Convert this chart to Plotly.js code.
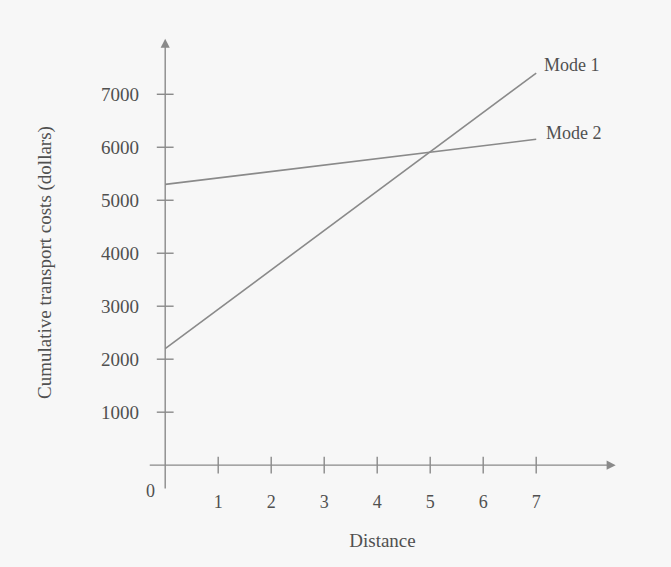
<!DOCTYPE html>
<html><head><meta charset="utf-8">
<script src="https://cdn.plot.ly/plotly-3.0.1.min.js"></script>
<style>html,body{margin:0;padding:0;background:#f7f7f7;}</style>
</head><body>
<div id="chart" style="width:671px;height:567px;"></div>
<script>
// Data
const distance = [0, 7];
const mode1Cost = [2200, 7400];
const mode2Cost = [5300, 6150];
const seriesNames = ["Mode 1", "Mode 2"];
const xTickVals = [1, 2, 3, 4, 5, 6, 7];
const yTickVals = [1000, 2000, 3000, 4000, 5000, 6000, 7000];
const yTickText = ["1000", "2000", "3000", "4000", "5000", "6000", "7000"];

const lineColor = "#8a8a8a";
const textColor = "#505050";
const fontFam = "Liberation Serif, Times New Roman, serif";

const traces = [
  {x: distance, y: mode1Cost, mode: "lines", name: seriesNames[0],
   line: {color: lineColor, width: 1.6}, hoverinfo: "skip"},
  {x: distance, y: mode2Cost, mode: "lines", name: seriesNames[1],
   line: {color: lineColor, width: 1.6}, hoverinfo: "skip"},
  // tick marks crossing the y axis
  {x: yTickVals.map(() => 0), y: yTickVals, mode: "markers",
   marker: {symbol: "line-ew-open", size: 12, color: lineColor, line: {color: lineColor, width: 1.4}},
   hoverinfo: "skip", cliponaxis: false},
  // tick marks crossing the x axis
  {x: xTickVals, y: xTickVals.map(() => 0), mode: "markers",
   marker: {symbol: "line-ns-open", size: 12, color: lineColor, line: {color: lineColor, width: 1.4}},
   hoverinfo: "skip", cliponaxis: false}
];

const annotations = [
  // y axis with arrow
  {x: 0, y: 8050, ax: 0, ay: -470, xref: "x", yref: "y", axref: "x", ayref: "y",
   showarrow: true, arrowhead: 2, arrowsize: 1.3, arrowwidth: 1.4, arrowcolor: lineColor, text: ""},
  // x axis with arrow
  {x: 8.5, y: 0, ax: -0.32, ay: 0, xref: "x", yref: "y", axref: "x", ayref: "y",
   showarrow: true, arrowhead: 2, arrowsize: 1.3, arrowwidth: 1.4, arrowcolor: lineColor, text: ""},
  {x: 0, y: 0, xref: "x", yref: "y", text: "0", showarrow: false,
   xanchor: "right", yanchor: "top", xshift: -8, yshift: -14,
   font: {family: fontFam, size: 18, color: textColor}},
  {x: distance[1], y: mode1Cost[1], xref: "x", yref: "y", text: seriesNames[0], showarrow: false,
   xanchor: "left", yanchor: "middle", xshift: 6, yshift: 8,
   font: {family: fontFam, size: 18, color: textColor}},
  {x: distance[1], y: mode2Cost[1], xref: "x", yref: "y", text: seriesNames[1], showarrow: false,
   xanchor: "left", yanchor: "middle", xshift: 8, yshift: 6,
   font: {family: fontFam, size: 18, color: textColor}}
];

const layout = {
  width: 671, height: 567,
  paper_bgcolor: "#f7f7f7", plot_bgcolor: "#f7f7f7",
  margin: {l: 144, r: 50, t: 36, b: 78},
  showlegend: false,
  font: {family: fontFam, color: textColor, size: 18},
  xaxis: {
    range: [-0.4, 8.6], showgrid: false, zeroline: false, showline: false,
    tickvals: xTickVals, ticks: "", ticklabelstandoff: 0,
    tickfont: {family: fontFam, size: 18, color: textColor},
    title: {text: "Distance", standoff: 22, font: {family: fontFam, size: 19, color: textColor}}
  },
  yaxis: {
    range: [-450, 8100], showgrid: false, zeroline: false, showline: false,
    tickvals: yTickVals, ticktext: yTickText, ticks: "", ticklabelstandoff: 4,
    tickfont: {family: fontFam, size: 19, color: textColor},
    title: {text: "Cumulative transport costs (dollars)", standoff: 44,
            font: {family: fontFam, size: 19, color: textColor}}
  },
  annotations: annotations
};

Plotly.newPlot("chart", traces, layout, {displayModeBar: false, staticPlot: true});
</script>
</body></html>
